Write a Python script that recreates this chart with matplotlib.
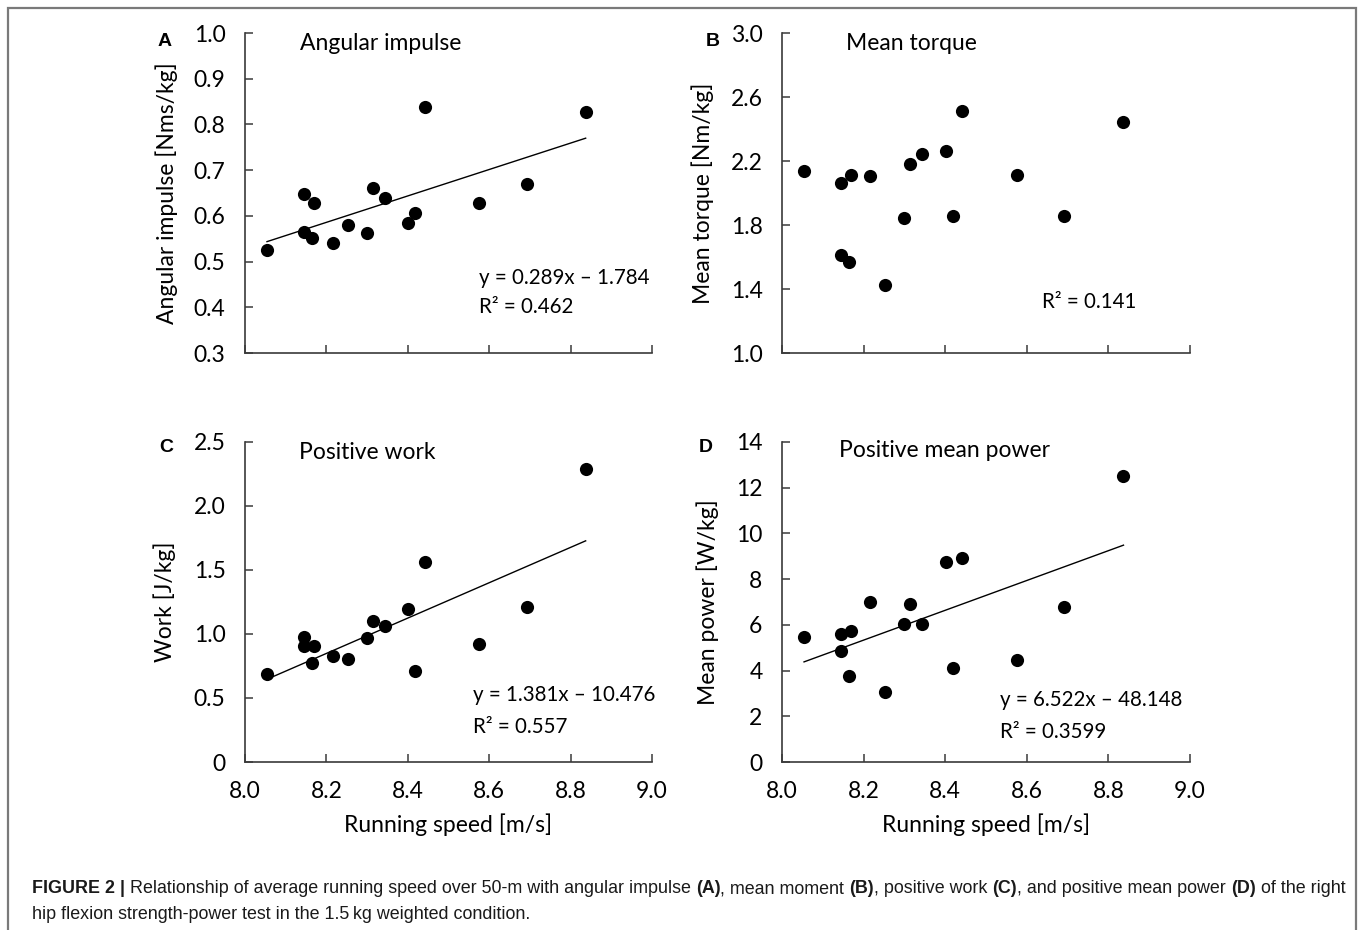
import matplotlib
matplotlib.use("Agg")
import matplotlib.pyplot as plt
import matplotlib.patches as mpatches
import numpy as np

# running speed (same athletes in every panel)
speed = np.array([8.054, 8.144, 8.144, 8.169, 8.165, 8.215, 8.253, 8.300,
                  8.314, 8.343, 8.401, 8.418, 8.442, 8.575, 8.692, 8.837])
impulse = np.array([0.526, 0.648, 0.565, 0.629, 0.551, 0.541, 0.581, 0.562,
                    0.662, 0.640, 0.584, 0.606, 0.839, 0.629, 0.669, 0.828])
torque = np.array([2.136, 2.061, 1.611, 2.113, 1.567, 2.105, 1.422, 1.841,
                   2.180, 2.244, 2.265, 1.854, 2.514, 2.115, 1.854, 2.443])
work = np.array([0.685, 0.977, 0.909, 0.909, 0.776, 0.828, 0.802, 0.971,
                 1.104, 1.065, 1.198, 0.711, 1.565, 0.922, 1.211, 2.286])
power = np.array([5.45, 5.60, 4.84, 5.74, 3.75, 6.99, 3.08, 6.03,
                  6.92, 6.03, 8.76, 4.10, 8.91, 4.48, 6.77, 12.53])

# printed regression lines (slope, intercept), None = no line
fits = [(0.289, -1.784), None, (1.381, -10.476), (6.522, -48.148)]
eq_text = ["y = 0.289x \u2013 1.784", None, "y = 1.381x \u2013 10.476", "y = 6.522x \u2013 48.148"]
r2_text = ["R\u00b2 = 0.462", "R\u00b2 = 0.141", "R\u00b2 = 0.557", "R\u00b2 = 0.3599"]
titles = ["Angular impulse", "Mean torque", "Positive work", "Positive mean power"]
ylabels = ["Angular impulse [Nms/kg]", "Mean torque [Nm/kg]", "Work [J/kg]", "Mean power [W/kg]"]
letters = ["A", "B", "C", "D"]
yticks = [[0.3, 0.4, 0.5, 0.6, 0.7, 0.8, 0.9, 1.0],
          [1.0, 1.4, 1.8, 2.2, 2.6, 3.0],
          [0, 0.5, 1.0, 1.5, 2.0, 2.5],
          [0, 2, 4, 6, 8, 10, 12, 14]]
yticklabels = [["0.3", "0.4", "0.5", "0.6", "0.7", "0.8", "0.9", "1.0"],
               ["1.0", "1.4", "1.8", "2.2", "2.6", "3.0"],
               ["0", "0.5", "1.0", "1.5", "2.0", "2.5"],
               ["0", "2", "4", "6", "8", "10", "12", "14"]]
xticks = [8.0, 8.2, 8.4, 8.6, 8.8, 9.0]
xticklabels = ["8.0", "8.2", "8.4", "8.6", "8.8", "9.0"]

W, H = 1358, 930
fig = plt.figure(figsize=(W / 100, H / 100), dpi=100)

def fx(px):
  return px / W

def fy(py):
  return 1 - py / H

chart_font = ["Lato", "DejaVu Sans"]
fs = 16.5
eq_fs = 14.8
col_axis = "#3a3a3a"

# pixel boxes: left, top, right, bottom
boxes = [(245, 33, 652, 353), (782, 33, 1190, 353),
         (245, 442, 652, 762), (782, 442, 1190, 762)]
ylab_x = [167, 703, 165, 708]
letter_pos = [(165, 41), (713, 41), (166, 447), (706, 447)]
title_pos = [(300, 44), (846, 44), (299, 452), (839, 450)]
eq_pos = [(479, 278), None, (473, 695), (1000, 700)]
r2_pos = [(479, 307), (1042, 302), (473, 727), (1000, 732)]
yvals = [impulse, torque, work, power]

for i in range(4):
  l, t, r, b = boxes[i]
  ax = fig.add_axes([fx(l), fy(b), fx(r - l), (b - t) / H])
  ax.scatter(speed, yvals[i], s=90, color="black", zorder=3, linewidths=0)
  if fits[i] is not None:
    xs = np.array([speed.min(), speed.max()])
    ax.plot(xs, fits[i][0] * xs + fits[i][1], color="black", lw=1.0)
  ax.set_xlim(8.0, 9.0)
  ax.set_ylim(yticks[i][0], yticks[i][-1])
  ax.set_xticks(xticks)
  ax.set_yticks(yticks[i])
  ax.set_yticklabels(yticklabels[i], fontfamily=chart_font, fontsize=fs)
  if i >= 2:
    ax.set_xticklabels(xticklabels, fontfamily=chart_font, fontsize=fs)
    ax.set_xlabel("Running speed [m/s]", fontfamily=chart_font, fontsize=fs)
    ax.xaxis.set_label_coords(0.5, -(825 - b) / (b - t), transform=ax.transAxes)
    ax.xaxis.label.set_va("center")
  else:
    ax.set_xticklabels([])
  ax.tick_params(direction="in", length=6, width=1.1, color=col_axis, pad=14)
  ax.tick_params(axis="x", pad=14)
  for s in ["top", "right"]:
    ax.spines[s].set_visible(False)
  for s in ["left", "bottom"]:
    ax.spines[s].set_color(col_axis)
    ax.spines[s].set_linewidth(1.2)
  ax.set_ylabel(ylabels[i], fontfamily=chart_font, fontsize=fs)
  ax.yaxis.set_label_coords((ylab_x[i] - l) / (r - l), 0.5)
  ax.yaxis.label.set_va("center")

  fig.text(fx(letter_pos[i][0]), fy(letter_pos[i][1]), letters[i], ha="center", va="center",
           fontfamily="Liberation Sans", fontweight="bold", fontsize=14)
  fig.text(fx(title_pos[i][0]), fy(title_pos[i][1]), titles[i], ha="left", va="center",
           fontfamily=chart_font, fontsize=fs)
  if eq_text[i] is not None:
    fig.text(fx(eq_pos[i][0]), fy(eq_pos[i][1]), eq_text[i], ha="left", va="center",
             fontfamily=chart_font, fontsize=eq_fs)
  fig.text(fx(r2_pos[i][0]), fy(r2_pos[i][1]), r2_text[i], ha="left", va="center",
           fontfamily=chart_font, fontsize=eq_fs)

# frame around the figure (bottom edge cut off)
fig.patches.append(mpatches.Rectangle((fx(8), -0.02), fx(1348), fy(8) + 0.02, fill=False,
                                      edgecolor="#7a7a7a", lw=1.6, transform=fig.transFigure))

# caption with bold parts
caption1 = [("FIGURE 2 | ", "bold"), ("Relationship of average running speed over 50-m with angular impulse ", "normal"),
            ("(A)", "bold"), (", mean moment ", "normal"), ("(B)", "bold"), (", positive work ", "normal"),
            ("(C)", "bold"), (", and positive mean power ", "normal"), ("(D)", "bold"), (" of the right", "normal")]
caption2 = [("hip flexion strength-power test in the 1.5\u2009kg weighted condition.", "normal")]

renderer = fig.canvas.get_renderer()
cap_fs = 12.85
for parts, ypx in [(caption1, 893), (caption2, 919)]:
  xpx = 32
  for txt, wt in parts:
    tt = fig.text(fx(xpx), fy(ypx), txt, ha="left", va="baseline", fontfamily=["Liberation Sans", "DejaVu Sans"],
                  fontweight=wt, fontsize=cap_fs, color="#1a1a1a")
    xpx += tt.get_window_extent(renderer).width

fig.savefig("out.png", dpi=100)
